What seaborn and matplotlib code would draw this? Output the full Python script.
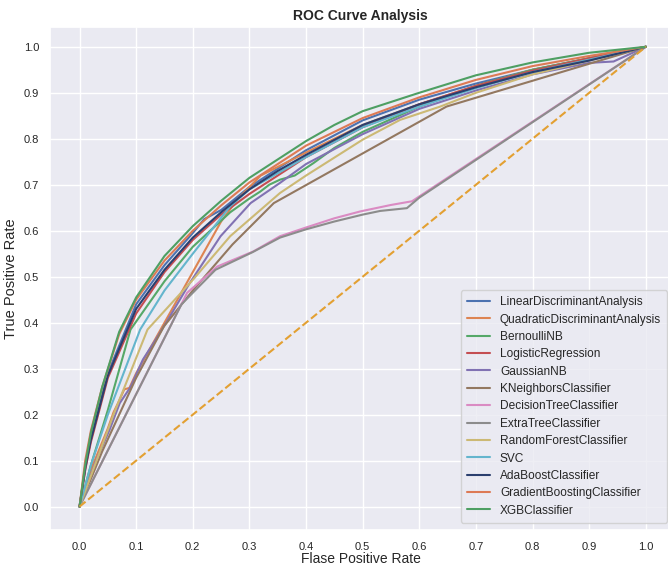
import pandas as pd
import matplotlib.pyplot as plt
import seaborn as sns

# modelos na ordem da legenda
modelos = ["LinearDiscriminantAnalysis", "QuadraticDiscriminantAnalysis", "BernoulliNB",
           "LogisticRegression", "GaussianNB", "KNeighborsClassifier", "DecisionTreeClassifier",
           "ExtraTreeClassifier", "RandomForestClassifier", "SVC", "AdaBoostClassifier",
           "GradientBoostingClassifier", "XGBClassifier"]

cores = ["#4C72B0", "#DD8452", "#55A868", "#C44E52", "#8172B3", "#937860", "#DA8BC3",
         "#8C8C8C", "#CCB974", "#64B5CD", "#2B3F6E", "#DD7A55", "#4E9F63"]

# curvas ROC (fpr, tpr)
fpr_lda = [0, 0.01, 0.02, 0.05, 0.1, 0.15, 0.2, 0.22, 0.25, 0.3, 0.35, 0.4, 0.5, 0.6, 0.7, 0.8, 0.9, 1]
tpr_lda = [0, 0.08, 0.15, 0.29, 0.44, 0.525, 0.595, 0.625, 0.645, 0.695, 0.735, 0.775, 0.84, 0.885, 0.92, 0.95, 0.975, 1]

fpr_qda = [0, 0.02, 0.05, 0.06, 0.068, 0.079, 0.088, 0.1, 0.15, 0.2, 0.25, 0.28, 0.32, 0.4, 0.5, 0.6, 0.7, 0.8, 0.9, 1]
tpr_qda = [0, 0.08, 0.17, 0.205, 0.225, 0.255, 0.258, 0.29, 0.40, 0.51, 0.62, 0.67, 0.72, 0.77, 0.83, 0.875, 0.915, 0.95, 0.975, 1]

fpr_bnb = [0, 0.02, 0.05, 0.09, 0.15, 0.2, 0.266, 0.3, 0.319, 0.335, 0.354, 0.38, 0.413, 0.45, 0.5, 0.6, 0.7, 0.8, 0.9, 1]
tpr_bnb = [0, 0.09, 0.21, 0.385, 0.49, 0.565, 0.64, 0.67, 0.685, 0.70, 0.711, 0.72, 0.747, 0.78, 0.815, 0.87, 0.915, 0.95, 0.975, 1]

fpr_lr = [0, 0.01, 0.02, 0.05, 0.1, 0.15, 0.2, 0.25, 0.3, 0.35, 0.4, 0.5, 0.6, 0.7, 0.8, 0.9, 1]
tpr_lr = [0, 0.08, 0.14, 0.28, 0.42, 0.51, 0.58, 0.635, 0.68, 0.72, 0.76, 0.825, 0.875, 0.915, 0.948, 0.975, 1]

fpr_gnb = [0, 0.029, 0.053, 0.071, 0.09, 0.112, 0.135, 0.153, 0.193, 0.249, 0.302, 0.354, 0.4, 0.5, 0.6, 0.7, 0.8, 0.9, 0.943, 1]
tpr_gnb = [0, 0.10, 0.167, 0.225, 0.26, 0.32, 0.364, 0.40, 0.483, 0.588, 0.66, 0.704, 0.745, 0.81, 0.865, 0.905, 0.94, 0.965, 0.968, 1]

fpr_knn = [0, 0.04, 0.1, 0.149, 0.2, 0.27, 0.343, 0.648, 1]
tpr_knn = [0, 0.12, 0.28, 0.392, 0.47, 0.57, 0.66, 0.87, 1]

fpr_dt = [0, 0.19, 0.243, 0.307, 0.354, 0.4, 0.45, 0.496, 0.55, 0.587, 1]
tpr_dt = [0, 0.465, 0.522, 0.555, 0.588, 0.607, 0.627, 0.642, 0.656, 0.664, 1]

fpr_et = [0, 0.18, 0.24, 0.305, 0.354, 0.4, 0.45, 0.5, 0.531, 0.578, 0.6, 1]
tpr_et = [0, 0.44, 0.515, 0.553, 0.585, 0.603, 0.62, 0.635, 0.643, 0.649, 0.672, 1]

fpr_rf = [0, 0.03, 0.06, 0.12, 0.2, 0.266, 0.354, 0.4, 0.5, 0.566, 0.637, 0.7, 0.8, 0.9, 1]
tpr_rf = [0, 0.1, 0.2, 0.385, 0.493, 0.588, 0.682, 0.72, 0.798, 0.841, 0.87, 0.9, 0.94, 0.97, 1]

fpr_svc = [0, 0.02, 0.05, 0.107, 0.15, 0.2, 0.266, 0.3, 0.35, 0.4, 0.5, 0.6, 0.7, 0.8, 0.9, 1]
tpr_svc = [0, 0.09, 0.2, 0.385, 0.47, 0.55, 0.653, 0.69, 0.725, 0.76, 0.825, 0.87, 0.91, 0.945, 0.972, 1]

fpr_ada = [0, 0.01, 0.02, 0.05, 0.1, 0.15, 0.2, 0.25, 0.3, 0.35, 0.4, 0.5, 0.6, 0.7, 0.8, 0.9, 1]
tpr_ada = [0, 0.085, 0.145, 0.285, 0.43, 0.515, 0.585, 0.64, 0.69, 0.73, 0.765, 0.83, 0.875, 0.912, 0.945, 0.97, 1]

fpr_gb = [0, 0.01, 0.02, 0.04, 0.07, 0.1, 0.15, 0.2, 0.25, 0.3, 0.35, 0.4, 0.45, 0.5, 0.6, 0.7, 0.8, 0.9, 1]
tpr_gb = [0, 0.1, 0.165, 0.26, 0.375, 0.45, 0.535, 0.60, 0.655, 0.705, 0.745, 0.785, 0.815, 0.845, 0.89, 0.928, 0.958, 0.98, 1]

fpr_xgb = [0, 0.01, 0.02, 0.04, 0.07, 0.1, 0.15, 0.2, 0.25, 0.3, 0.35, 0.4, 0.45, 0.5, 0.6, 0.7, 0.8, 0.9, 1]
tpr_xgb = [0, 0.09, 0.16, 0.26, 0.38, 0.455, 0.545, 0.61, 0.665, 0.715, 0.755, 0.795, 0.83, 0.86, 0.90, 0.938, 0.966, 0.987, 1]

curvas = [(fpr_lda, tpr_lda), (fpr_qda, tpr_qda), (fpr_bnb, tpr_bnb), (fpr_lr, tpr_lr),
          (fpr_gnb, tpr_gnb), (fpr_knn, tpr_knn), (fpr_dt, tpr_dt), (fpr_et, tpr_et),
          (fpr_rf, tpr_rf), (fpr_svc, tpr_svc), (fpr_ada, tpr_ada), (fpr_gb, tpr_gb),
          (fpr_xgb, tpr_xgb)]

linhas = []
for nome, (f, t) in zip(modelos, curvas):
    for a, b in zip(f, t):
        linhas.append({"modelo": nome, "fpr": a, "tpr": b})
df = pd.DataFrame(linhas)

ticks = [0.0, 0.1, 0.2, 0.3, 0.4, 0.5, 0.6, 0.7, 0.8, 0.9, 1.0]

sns.set_theme(style="darkgrid")
plt.rcParams["font.family"] = ["Liberation Sans", "DejaVu Sans"]

fig = plt.figure(figsize=(6.68, 5.65), dpi=100)
# eixo vai um pouco alem da borda direita, como no original (recortado)
ax = fig.add_axes([0.075, 0.0619, 0.93, 0.8903])

sns.lineplot(data=df, x="fpr", y="tpr", hue="modelo", hue_order=modelos,
             palette=cores, estimator=None, sort=False, units="modelo",
             linewidth=1.5, ax=ax)
ax.plot([0, 1], [0, 1], linestyle="--", color="#E3A032", linewidth=1.5)

ax.set_xlim(-0.052, 1.045)
ax.set_ylim(-0.051, 1.043)
ax.set_xticks(ticks)
ax.set_yticks(ticks)
ax.tick_params(axis="x", labelsize=8, pad=2.5)
ax.tick_params(axis="y", labelsize=8, pad=2)
ax.set_xlabel("Flase Positive Rate", fontsize=10, labelpad=0)
ax.set_ylabel("True Positive Rate", fontsize=10.5, labelpad=4)
ax.set_title("ROC Curve Analysis", fontsize=10, weight="bold", pad=5)

sns.move_legend(ax, "lower right", bbox_to_anchor=(0.997, 0.01), title=None,
                fontsize=8.6, frameon=True, borderaxespad=0.2, handlelength=2.0,
                labelspacing=0.45, borderpad=0.5)

plt.savefig("out.png", dpi=100)
